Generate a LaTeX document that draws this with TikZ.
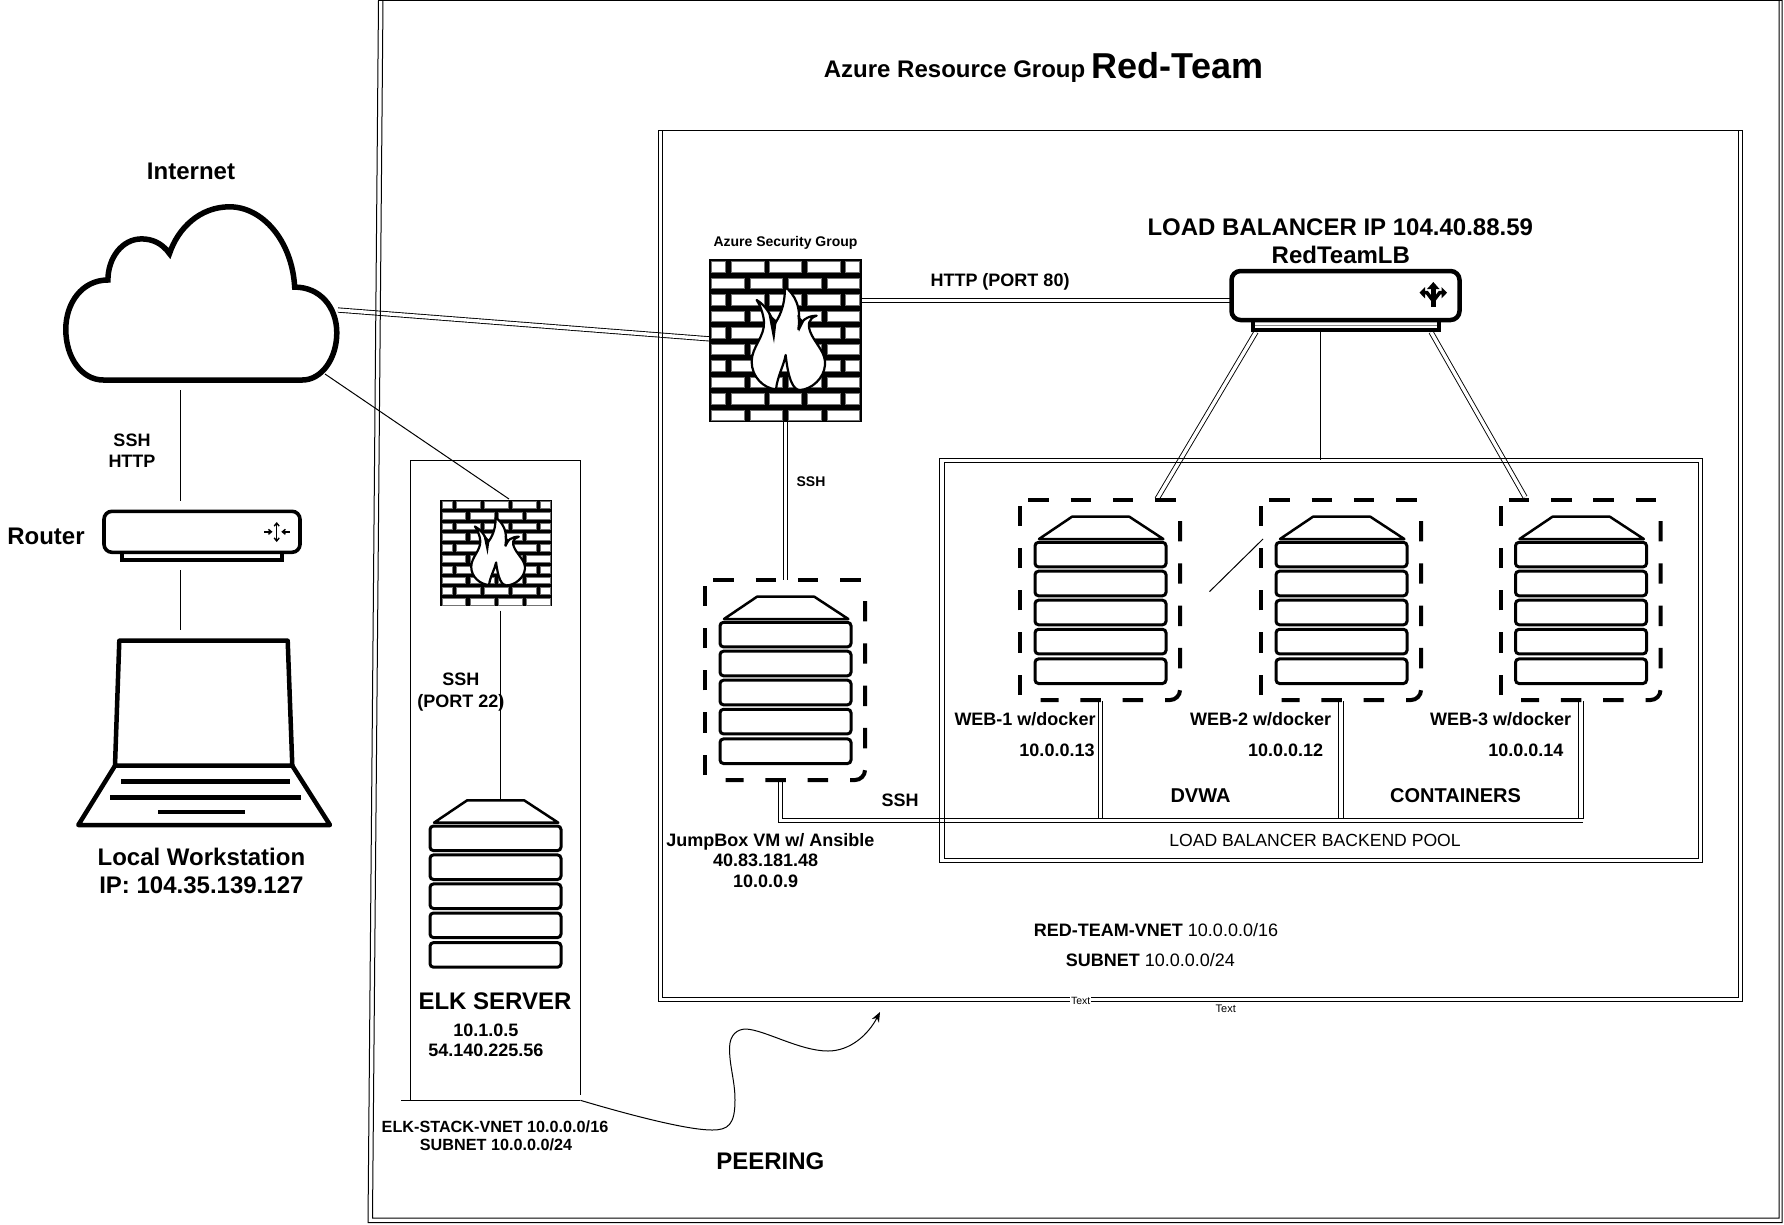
\documentclass[tikz,border=0pt]{standalone}
\usepackage{fontspec}
\setmainfont{Liberation Sans}
\usetikzlibrary{arrows.meta}
\newcommand\fs[1]{\fontsize{#1}{#1}\selectfont}
\tikzset{
  txt/.style={inner sep=0pt,font=\bfseries\fs{#1}},
  thin line/.style={line width=1pt,draw=black},
  dbl/.style={line width=.9pt,draw=black,double=white,double distance=3.4pt},
  boxline/.style={line width=1pt,draw=black},
  heavy/.style={line width=4pt,draw=black,line join=miter},
  dashside/.style={line width=4pt,draw=black,dash pattern=on 20.4pt off 21.9pt,rounded corners=10pt},
  srow/.style={line width=3pt,draw=black,fill=white,rounded corners=3.5pt},
  brick/.style={fill=white,draw=black!55,line width=.7pt},
  flame/.style={fill=white,draw=black,line width=2.2pt,line join=round},
}
% dashed frame round a server: #1 = x, #2 = y of the upper left corner
\newcommand\dashframe[2]{%
  \begin{scope}[shift={(#1,#2)}]
    \draw[dashside] (8.3,0) -- (156,0);
    \draw[dashside] (160,21) -- (160,200) -- (20.7,200);
    \draw[dashside] (0,195) -- (0,6);
  \end{scope}}
% server stack: #1 = x, #2 = y of the upper left corner of the first shelf
\newcommand\serverstack[2]{%
  \begin{scope}[shift={(#1,#2)}]
    \draw[line width=2.5pt,fill=white,line join=round] (4,-3.3) -- (37,-25.6) -- (94.3,-25.6) -- (128.3,-3.3) -- cycle;
    \foreach \t in {0,28.9,57.9,87,116.6}{
      \draw[srow] (0,\t) rectangle (131,\t+24.6);
    }
  \end{scope}}
% firewall: #1 x, #2 y, #3 xscale, #4 yscale
\newcommand\brickwall[4]{%
  \begin{scope}[shift={(#1,#2)},xscale=#3,yscale=#4]
    \fill[black] (0,0) rectangle (153,163);
    \foreach \r in {0,2,4,6,8}{
      \foreach \a/\b in {2.7/16.7,22.7/55,60.3/92.7,98.7/131,136.7/150.3}{
        \draw[brick] (\a,{2.7+\r*16.47}) rectangle (\b,{13.2+\r*16.47});
      }
    }
    \foreach \r in {1,3,5,7,9}{
      \foreach \a/\b in {2.7/35,41/73.7,79.3/112,118/150.3}{
        \draw[brick] (\a,{2.7+\r*16.47}) rectangle (\b,{13.2+\r*16.47});
      }
    }
    \begin{scope}[xscale=1/3,yscale=1/3,shift={(-27,-27)}]
      \draw[flame] (228,418)
        .. controls (190,415) and (155,380) .. (155,335)
        .. controls (155,290) and (195,260) .. (192,215)
        .. controls (190,190) and (180,165) .. (170,150)
        .. controls (195,165) and (215,195) .. (222,225)
        .. controls (235,205) and (255,175) .. (255,110)
        .. controls (285,135) and (305,170) .. (295,238)
        .. controls (300,215) and (320,197) .. (350,197)
        .. controls (325,205) and (320,225) .. (335,255)
        .. controls (350,285) and (378,310) .. (375,345)
        .. controls (372,385) and (335,418) .. (300,420)
        .. controls (280,420) and (265,390) .. (257,315)
        .. controls (250,350) and (232,380) .. (228,418) -- cycle;
      \fill[black] (205,190) -- (222,280) -- (230,212) -- cycle;
      \fill[black] (292,195) -- (297,245) -- (312,215) -- cycle;
    \end{scope}
  \end{scope}}
\begin{document}
\begin{tikzpicture}[x=1pt,y=-1pt]
\useasboundingbox (0,0) rectangle (1784,1224);
\fill[white] (0,0) rectangle (1784,1224);

% ---- anchor points of the connectors
\coordinate (cloudE) at (338,310);
\coordinate (cloudSE) at (325,374);
\coordinate (cloudS) at (180,390);
\coordinate (routerN) at (180,501);
\coordinate (routerS) at (180,570);
\coordinate (laptopN) at (180,630);
\coordinate (fwW) at (711,339);
\coordinate (fwE) at (862,300.5);
\coordinate (fwS) at (785.3,421);
\coordinate (lbW) at (1230,300.5);
\coordinate (lbSW) at (1256,332);
\coordinate (lbS) at (1320.4,332);
\coordinate (lbSE) at (1431,332);
\coordinate (poolN) at (1320.4,460);
\coordinate (web1N) at (1157,499);
\coordinate (web3N) at (1525,497);
\coordinate (web1S) at (1100.5,701);
\coordinate (web2S) at (1341,701);
\coordinate (web3S) at (1581,701);
\coordinate (web1B) at (1100.5,818.7);
\coordinate (web2B) at (1341,818.7);
\coordinate (web3B) at (1581,818.7);
\coordinate (jumpN) at (785.3,580);
\coordinate (jumpS) at (780.7,780);
\coordinate (jumpC) at (780.7,820.2);
\coordinate (busE) at (1583,820.2);
\coordinate (smallfwN) at (509,499);
\coordinate (smallfwS) at (500.5,610.7);
\coordinate (elkN) at (500.5,800);
\coordinate (strayA) at (1263,539);
\coordinate (strayB) at (1209.5,591.6);
\coordinate (elkSE) at (580.4,1100.3);
\coordinate (peerEnd) at (880,1012);

% ---- connectors
\draw[dbl] (cloudE) -- (fwW);
\draw[thin line] (cloudSE) -- (smallfwN);
\draw[thin line] (cloudS) -- (routerN);
\draw[thin line] (routerS) -- (laptopN);
\draw[dbl] (fwE) -- (lbW);
\draw[dbl] (fwS) -- (jumpN);
\draw[dbl] (lbSW) -- (web1N);
\draw[thin line] (lbS) -- (poolN);
\draw[dbl] (lbSE) -- (web3N);
\draw[thin line] (smallfwS) -- (elkN);
\draw[thin line] (strayA) -- (strayB);
\draw[dbl] (web1S) -- (web1B);
\draw[dbl] (web2S) -- (web2B);
\draw[dbl] (web3S) -- (web3B);
\draw[dbl] (jumpS) -- (jumpC) -- (busE);
\draw[thin line,-{Stealth[length=10pt,width=8pt]}] (elkSE)
  .. controls (640,1118) and (690,1130) .. (712,1130)
  .. controls (728,1130) and (735,1125) .. (735,1100)
  .. controls (735,1080) and (729,1065) .. (729.6,1046.7)
  .. controls (730,1035) and (737,1029) .. (746,1029)
  .. controls (765,1030) and (800,1051) .. (828,1051)
  .. controls (850,1051) and (868,1035) .. (peerEnd);

% ---- frames
\draw[boxline] (378.5,0) -- (368,1222.7) -- (1782,1222.7) -- (1782,0);
\draw[boxline] (383,0) -- (372.5,1218) -- (1779,1218) -- (1779,0);
\draw[boxline] (378.5,.7) -- (1782,.7);
\draw[boxline] (658.5,130.5) -- (658.5,1001) -- (1742,1001) -- (1742,130.5) -- cycle;
\draw[boxline] (662.7,130.5) -- (662.7,997) -- (1738.5,997) -- (1738.5,130.5);
\draw[boxline] (939.7,458) rectangle (1702.3,862);
\draw[boxline] (944,462) rectangle (1698.5,858);
\draw[thin line] (401,1100.3) -- (580.4,1100.3);
\draw[thin line] (410.7,1100.3) -- (410.7,460.4) -- (580.4,460.4) -- (580.4,1095);

% ---- cloud
\draw[line width=5.5pt,fill=white,line join=miter] (103.3,380) -- (302.3,380)
  .. controls (322,380) and (336.8,358) .. (336.8,332.9)
  .. controls (336.8,307) and (320,287.1) .. (294.7,287.1)
  .. controls (292,240) and (262,206.8) .. (229.6,206.8)
  .. controls (200,206.8) and (178,228) .. (169.5,253.6)
  .. controls (162,243) and (152,238.9) .. (141.6,238.9)
  .. controls (122,238.9) and (108,258) .. (107.9,280)
  .. controls (82,280) and (65.8,303) .. (65.8,329.3)
  .. controls (65.8,358) and (82,380) .. (103.3,380) -- cycle;

% ---- router
\draw[heavy] (122,554) -- (122,560) -- (282,560) -- (282,554);
\node[draw,line width=3.6pt,fill=white,rounded corners=8pt,minimum width=196pt,minimum height=41pt,inner sep=0pt] (router) at (202,531.8) {};
\draw[line width=1.4pt,{Straight Barb[length=3pt,width=5pt]}-{Straight Barb[length=3pt,width=5pt]}] (276.7,522) -- (276.7,542);
\draw[line width=1.4pt,-{Straight Barb[length=3pt,width=5pt]}] (264,531.8) -- (272.5,531.8);
\draw[line width=1.4pt,-{Straight Barb[length=3pt,width=5pt]}] (289.7,531.8) -- (281.3,531.8);

% ---- laptop
\draw[line width=4.5pt,line join=round,fill=white] (115,765.7) -- (119.3,640.7) -- (287.7,640.7) -- (292.3,765.7) -- cycle;
\draw[line width=4.5pt,line join=round] (115,765.7) -- (78.3,825) -- (330,825) -- (292.3,765.7);
\draw[line width=5pt] (121,781.3) -- (290,781.3);
\draw[line width=5pt] (110,797.3) -- (301,797.3);
\draw[line width=4pt] (158.3,811.7) -- (245.3,811.7);

% ---- firewalls
\brickwall{709}{259}{1}{1}
\brickwall{440}{499.5}{.732}{.656}

% ---- load balancer
\draw[heavy] (1253,322) -- (1253,330) -- (1439,330) -- (1439,322);
\draw[line width=1pt,draw=black!45] (1255,325.5) -- (1437,325.5);
\node[draw,line width=4.5pt,fill=white,rounded corners=9pt,minimum width=228pt,minimum height=49pt,inner sep=0pt] (lb) at (1345.5,295.5) {};
\draw[line width=4.5pt] (1433.3,287) -- (1433.3,307.3);
\fill (1433.3,282) -- (1439.5,289) -- (1427,289) -- cycle;
\draw[line width=3.5pt,line join=miter] (1424,292.7) -- (1427,292.7) -- (1433.3,301) -- (1439.6,292.7) -- (1442,292.7);
\fill (1419.5,292.7) -- (1425,287) -- (1425,298.4) -- cycle;
\fill (1447,292.7) -- (1441.5,287) -- (1441.5,298.4) -- cycle;

% ---- servers
\dashframe{1020}{500}
\dashframe{1261}{500}
\dashframe{1500.5}{500}
\dashframe{705}{580}
\serverstack{1035}{542.3}
\serverstack{1276}{542.3}
\serverstack{1515.5}{542.3}
\serverstack{720}{622.3}
\serverstack{430}{826}

% ---- labels
\node[txt=24] (t1) at (954.6,71.6) {Azure Resource Group};
\node[txt=36] (t2) at (1177.6,65.5) {Red-Team};
\node[txt=24] (t3) at (191,171.8) {Internet};
\node[txt=18] (t4) at (132,440) {SSH};
\node[txt=18] (t5) at (132,461) {HTTP};
\node[txt=24] (t6) at (46,536) {Router};
\node[txt=24] (t7) at (201.4,856.8) {Local Workstation};
\node[txt=24] (t8) at (201.4,885) {IP: 104.35.139.127};
\node[txt=18] (t9) at (460.8,679.3) {SSH};
\node[txt=18] (t10) at (460.8,703) {(PORT 22)};
\node[txt=24] (t11) at (495,1001) {ELK SERVER};
\node[txt=18] (t12) at (485.8,1030.7) {10.1.0.5};
\node[txt=18] (t13) at (485.8,1050.5) {54.140.225.56};
\node[txt=16.2] (t14) at (495,1127) {ELK-STACK-VNET 10.0.0.0/16};
\node[txt=16.2] (t15) at (496,1144.6) {SUBNET 10.0.0.0/24};
\node[txt=24] (t16) at (770.3,1161.6) {PEERING};
\node[txt=14] (t17) at (785.5,243) {Azure Security Group};
\node[txt=18] (t18) at (1000,282) {HTTP (PORT 80)};
\node[txt=24] (t19) at (1340.3,227.4) {LOAD BALANCER IP 104.40.88.59};
\node[txt=24] (t20) at (1340.8,255) {RedTeamLB};
\node[txt=14] (t21) at (811,482) {SSH};
\node[txt=18] (t22) at (1025,719.5) {WEB-1 w/docker};
\node[txt=18] (t23) at (1057,750) {10.0.0.13};
\node[txt=18] (t24) at (1260.6,719.5) {WEB-2 w/docker};
\node[txt=18] (t25) at (1285.7,750) {10.0.0.12};
\node[txt=18] (t26) at (1500.7,719.5) {WEB-3 w/docker};
\node[txt=18] (t27) at (1525.8,750) {10.0.0.14};
\node[txt=20] (t28) at (1200.5,796) {DVWA};
\node[txt=20] (t29) at (1455.5,796) {CONTAINERS};
\node[txt=18] (t30) at (900,800) {SSH};
\node[inner sep=0pt,font=\fs{17.6}] (t31) at (1315,840) {LOAD BALANCER BACKEND POOL};
\node[txt=18] (t32) at (770.3,842) {JumpBox VM w/ Ansible};
\node[txt=18] (t33) at (765.7,860) {40.83.181.48};
\node[txt=18] (t34) at (765.7,881) {10.0.0.9};
\node[txt=18] (t35) at (1156,929.6) {RED-TEAM-VNET \mdseries 10.0.0.0/16};
\node[txt=18] (t36) at (1150.3,960) {SUBNET \mdseries 10.0.0.0/24};
\node[inner sep=1pt,fill=white,font=\fs{10.5}] (t37) at (1080.7,1001) {Text};
\node[inner sep=0pt,font=\fs{11}] (t38) at (1225.7,1008.5) {Text};
\end{tikzpicture}
\end{document}
